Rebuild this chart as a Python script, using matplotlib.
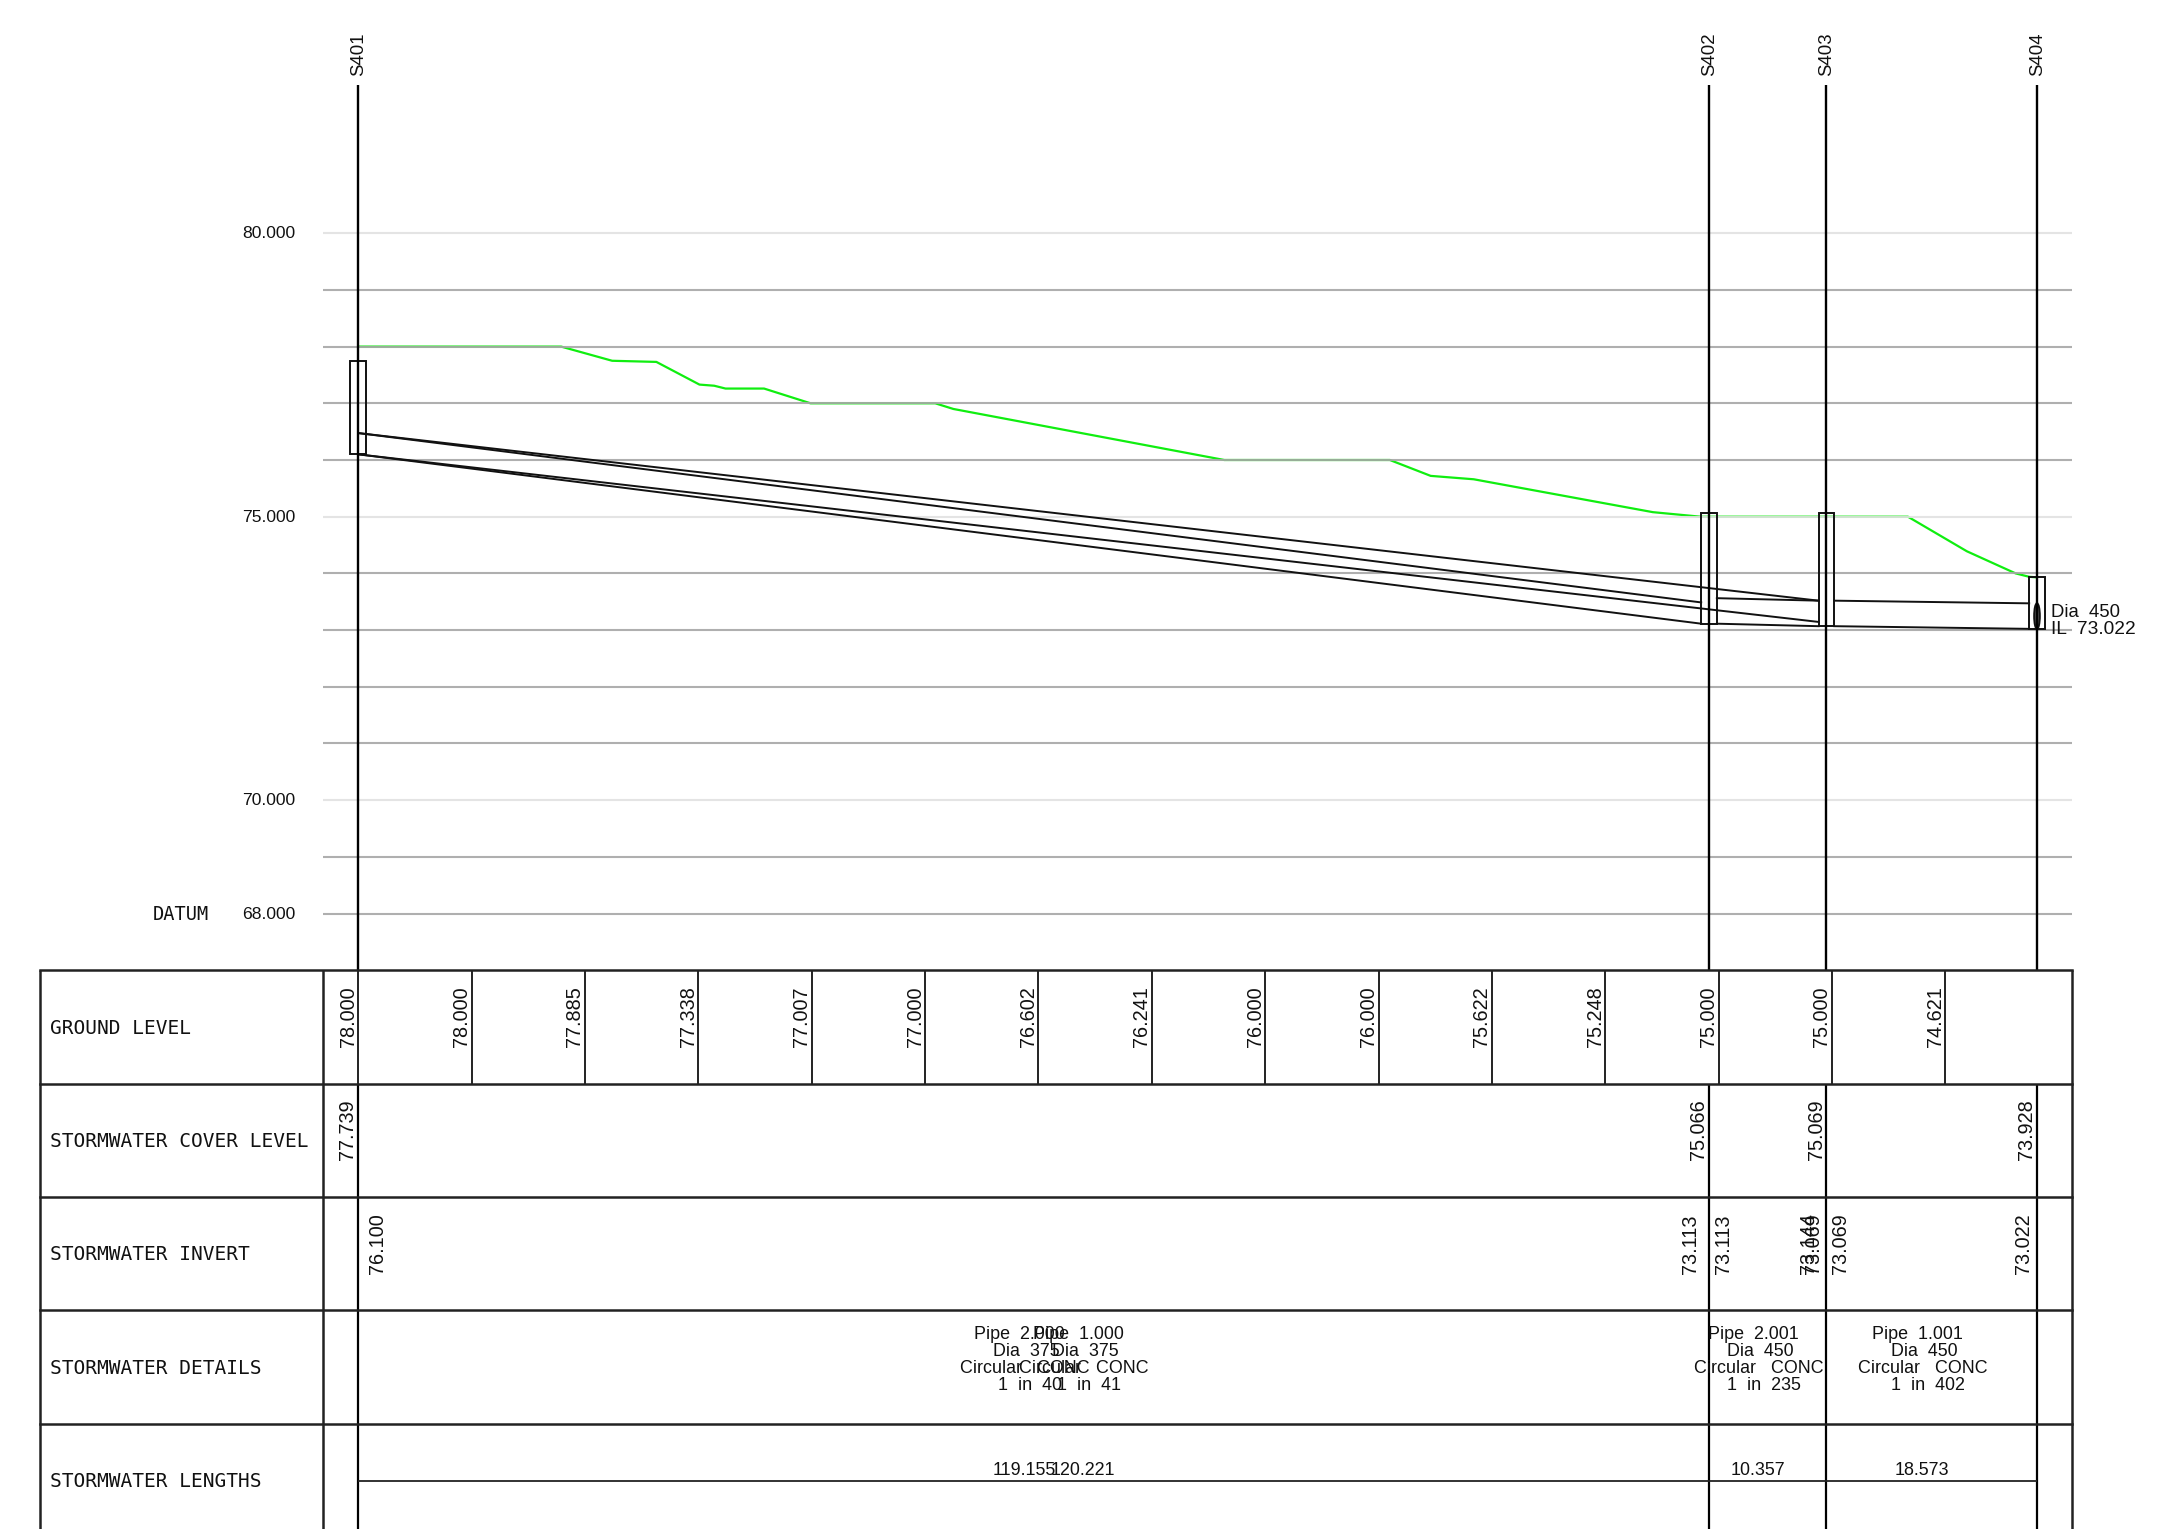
import matplotlib
matplotlib.use('Agg')
import matplotlib.pyplot as plt
from matplotlib.patches import Rectangle, Ellipse

#Stations
station_names = ['S401', 'S402', 'S403', 'S404']
station_ch = [0, 119.155, 129.512, 148.085]
cover_levels = [77.739, 75.066, 75.069, 73.928]
base_levels = [76.100, 73.113, 73.069, 73.022]

#Ground profile (green line)
green_ch = [0, 17.9, 22.4, 26.3, 30.1, 31.4, 32.4, 35.8, 39.9, 50.9, 52.5, 76.4, 91.0, 94.6, 98.4, 114.2, 118.4, 136.7, 141.9, 146.2, 147.4, 148.085]
green_lv = [78, 78, 77.75, 77.73, 77.33, 77.31, 77.26, 77.26, 77, 77, 76.9, 76, 76, 75.72, 75.66, 75.08, 75, 75, 74.39, 74.0, 73.94, 73.93]

#Ground level row
ground_ch = [0, 10, 20, 30, 40, 50, 60, 70, 80, 90, 100, 110, 120, 130, 140]
ground_txt = ['78.000', '78.000', '77.885', '77.338', '77.007', '77.000', '76.602', '76.241',
              '76.000', '76.000', '75.622', '75.248', '75.000', '75.000', '74.621']

#Pipes: start chainage, start invert, end chainage, end invert, diameter
pipe_from = [0, 0, 119.155, 129.512]
pipe_to = [119.155, 129.512, 129.512, 148.085]
pipe_il_from = [76.100, 76.100, 73.113, 73.069]
pipe_il_to = [73.113, 73.144, 73.069, 73.022]
pipe_dia = [0.375, 0.375, 0.450, 0.450]

#Text rows
pipe_names = ['Pipe  2.000', 'Pipe  1.000', 'Pipe  2.001', 'Pipe  1.001']
pipe_dias = ['Dia  375', 'Dia  375', 'Dia  450', 'Dia  450']
pipe_mats = ['Circular   CONC'] * 4
pipe_slopes = ['1  in  40', '1  in  41', '1  in  235', '1  in  402']
pipe_lengths = ['119.155', '120.221', '10.357', '18.573']

invert_ch = [0, 119.155, 119.155, 129.512, 129.512, 129.512, 148.085]
invert_txt = ['76.100', '73.113', '73.113', '73.144', '73.069', '73.069', '73.022']
invert_nudge = [1.63, -1.68, 1.21, -1.65, -1.20, 1.21, -1.21]

grid_levels = list(range(68, 81))
level_labels = [80, 75, 70, 68]
row_names = ['GROUND LEVEL', 'STORMWATER COVER LEVEL', 'STORMWATER INVERT', 'STORMWATER DETAILS', 'STORMWATER LENGTHS']
row_tops = [67, 65, 63, 61, 59]

NARROW = ['Liberation Sans Narrow', 'Liberation Sans', 'DejaVu Sans']
SANS = ['Liberation Sans', 'DejaVu Sans']
MONO = ['DejaVu Sans Mono']
INK = '#111111'

fig = plt.figure(figsize=(21.63, 15.29), dpi=100)
ax = fig.add_axes([0, 0, 1, 1])
ax.set_xlim(-31.6, 159.2)
ax.set_ylim(57.146, 84.113)
ax.axis('off')

x_left, x_sep, x_right = -28.07, -3.07, 151.15

#Green ground line goes under the grid
ax.plot(green_ch, green_lv, color='#10ee10', lw=1.6, zorder=1)

for lv in grid_levels:
    col = '#e1e1e1' if lv in (80, 75, 70) else '#a7a7a7'
    ax.plot([x_sep, x_right], [lv, lv], color=col, lw=1.5, alpha=0.9, zorder=2, solid_capstyle='butt')

for lv in level_labels:
    ax.text(-5.55, lv - 0.01, f'{lv:.3f}', family=SANS, fontsize=12.6, ha='right', va='center', color=INK)
ax.text(-18.1, 67.98, 'DATUM', family=MONO, fontsize=13.4, ha='left', va='center', color=INK)

#Station lines, they skip the ground level row
for name, ch in zip(station_names, station_ch):
    ax.plot([ch, ch], [82.61, 67], color='black', lw=1.7, zorder=4, solid_capstyle='butt')
    ax.plot([ch, ch], [65, 57.146], color='black', lw=1.6, zorder=4, solid_capstyle='butt')
    ax.text(ch + 0.05, 82.78, name, family=NARROW, fontsize=13.4, rotation=90, ha='center', va='bottom', color=INK)

#Manholes
hw = 0.69
for ch, top, bot in zip(station_ch, cover_levels, base_levels):
    ax.add_patch(Rectangle((ch - hw, bot), 2 * hw, top - bot, fill=False, ec=INK, lw=1.4, zorder=3))

#Pipes
for i in range(len(pipe_from)):
    x0 = pipe_from[i] + (hw if i >= 2 else 0)
    x1 = pipe_to[i] - hw
    ax.plot([x0, x1], [pipe_il_from[i], pipe_il_to[i]], color=INK, lw=1.4, zorder=3)
    ax.plot([x0, x1], [pipe_il_from[i] + pipe_dia[i], pipe_il_to[i] + pipe_dia[i]], color=INK, lw=1.4, zorder=3)

#Outlet pipe end at S404
ax.add_patch(Ellipse((station_ch[3], base_levels[3] + pipe_dia[3] / 2), 0.5, pipe_dia[3],
                     fc='#555555', ec=INK, lw=1.4, zorder=3))
ax.text(149.35, 73.31, 'Dia  450', family=SANS, fontsize=13.3, ha='left', va='center', color=INK, zorder=5)
ax.text(149.35, 73.01, 'IL  73.022', family=SANS, fontsize=13.8, ha='left', va='center', color=INK, zorder=5)

#Table
for lv in row_tops:
    ax.plot([x_left, x_right], [lv, lv], color='#222222', lw=1.8, zorder=4, solid_capstyle='projecting')
for x in (x_left, x_sep, x_right):
    ax.plot([x, x], [67, 57.146], color='#222222', lw=1.8, zorder=4, solid_capstyle='butt')
for name, top in zip(row_names, row_tops):
    ax.text(-27.2, top - 1.02, name, family=MONO, fontsize=14.0, ha='left', va='center', color=INK)

for ch, txt in zip(ground_ch, ground_txt):
    ax.plot([ch, ch], [67, 65], color='#222222', lw=1.4, zorder=4, solid_capstyle='butt')
    ax.text(ch - 0.88, 65.65, txt, family=NARROW, fontsize=14.3, rotation=90, ha='center', va='bottom', color=INK)

for ch, lv in zip(station_ch, cover_levels):
    ax.text(ch - 0.92, 63.65, f'{lv:.3f}', family=NARROW, fontsize=14.3, rotation=90, ha='center', va='bottom', color=INK)

for ch, txt, nudge in zip(invert_ch, invert_txt, invert_nudge):
    ax.text(ch + nudge + 0.05, 61.65, txt, family=NARROW, fontsize=14.3, rotation=90, ha='center', va='bottom', color=INK)

#Pipe details and lengths, centred on each span
line_levels = [60.57, 60.27, 59.97, 59.67]
line_nudge = [-1.25, -0.62, -0.76, -0.3]
for i in range(len(pipe_names)):
    mid = (pipe_from[i] + pipe_to[i]) / 2
    lines = [pipe_names[i], pipe_dias[i], pipe_mats[i], pipe_slopes[i]]
    for s, lv, nudge in zip(lines, line_levels, line_nudge):
        ax.text(mid + nudge, lv, s, family=SANS, fontsize=12.9, ha='center', va='center', color=INK, zorder=5)
    ax.text(mid - 0.85, 58.18, pipe_lengths[i], family=SANS, fontsize=12.9, ha='center', va='center', color=INK)

ax.plot([station_ch[0], station_ch[3]], [58, 58], color='#222222', lw=1.3, zorder=4, solid_capstyle='butt')

fig.savefig('out.png', dpi=100)
